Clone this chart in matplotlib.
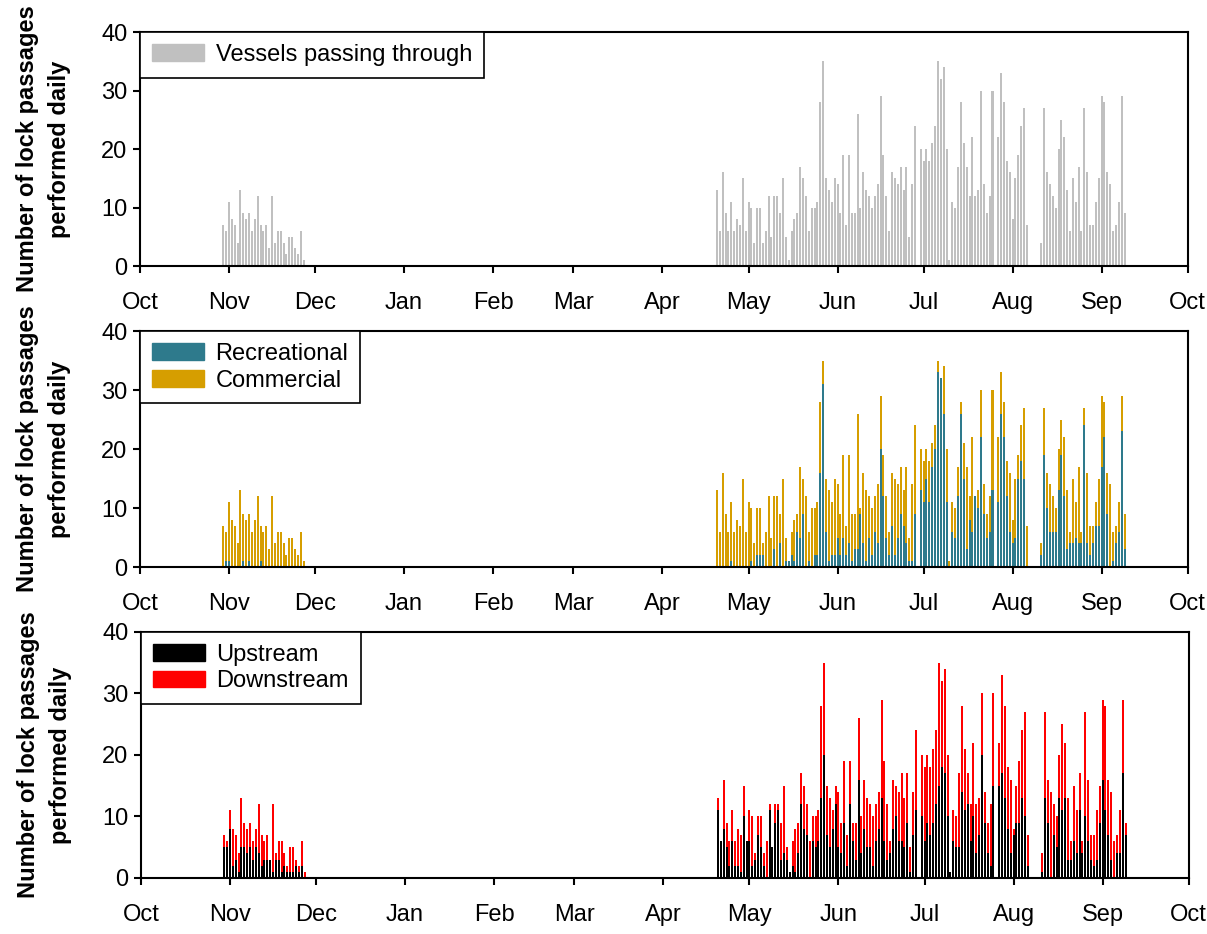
import numpy as np
import pandas as pd
import matplotlib
matplotlib.use('Agg')
import matplotlib.pyplot as plt
import matplotlib.dates as mdates
from matplotlib.patches import Patch

plt.rcParams['font.family'] = ['Liberation Sans', 'DejaVu Sans']

#-----
# DATA
#-----
FALL_START = '2016-10-30'
SPRING_START = '2017-04-20'
X_FROM, X_TO = '2016-10-01', '2017-10-01'

# vessels per day, autumn block
fall_total = [7, 6, 11, 8, 7, 4, 13, 9, 8, 9, 6, 8, 12, 7, 6, 7, 3, 12, 4, 6,
              6, 4, 2, 5, 5, 3, 2, 6, 1]
fall_rec = [0, 1, 1, 0, 0, 0, 0, 1, 0, 1, 0, 0, 0, 1, 0, 0, 0, 0, 0, 0,
            0, 0, 0, 0, 0, 0, 0, 0, 0]
fall_up = [5, 5, 8, 2, 3, 1, 5, 5, 4, 5, 3, 5, 4, 2, 3, 3, 3, 1, 3, 3,
           1, 2, 1, 1, 1, 2, 1, 2, 0]

# vessels per day, spring/summer block
spring_total = [13, 6, 16, 9, 6, 11, 6, 8, 7, 15, 6, 11, 10, 4, 10, 10, 4, 6, 12, 5,
                12, 12, 9, 15, 5, 1, 6, 8, 9, 17, 15, 12, 6, 10, 10, 11, 28, 35, 15, 13,
                11, 15, 14, 9, 19, 7, 19,
                9, 9, 26, 10, 16, 13, 12, 10, 12, 14, 29, 19, 12, 6, 16, 15, 14, 17, 13, 17,
                5, 14, 24, 0, 20, 18, 20, 18, 21, 24, 35, 32, 34, 20, 1, 11, 10, 17, 28, 21,
                17, 12, 22, 12, 13, 30, 14, 9, 12,
                30, 0, 22, 33, 28, 18, 16, 8, 15, 19, 24, 27, 7, 0, 0, 0, 0, 4, 27, 16,
                14, 12, 10, 20, 25, 22, 13, 6, 15, 11, 17, 6, 27, 16, 7, 7, 11, 15, 29, 28,
                16, 14, 6, 7, 11, 29, 9]
spring_rec = [0, 0, 0, 0, 0, 1, 0, 0, 0, 0, 0, 0, 1, 0, 2, 2, 2, 0, 0, 0,
              3, 0, 4, 0, 1, 1, 2, 1, 6, 5, 9, 0, 1, 0, 2, 2, 16, 31, 6, 1,
              2, 2, 5, 2, 5, 2, 4,
              1, 3, 3, 9, 4, 1, 5, 2, 6, 4, 20, 12, 5, 2, 7, 2, 5, 9, 7, 4,
              1, 1, 9, 0, 13, 11, 15, 11, 17, 20, 33, 32, 26, 11, 0, 6, 5, 12, 26, 15,
              3, 8, 6, 12, 10, 22, 9, 5, 6,
              13, 0, 11, 26, 22, 12, 6, 4, 5, 15, 18, 15, 0, 0, 0, 0, 0, 2, 19, 10,
              6, 6, 6, 13, 19, 12, 3, 4, 4, 5, 4, 4, 24, 4, 2, 4, 7, 7, 17, 22,
              9, 0, 1, 4, 6, 23, 3]
spring_up = [11, 6, 8, 5, 2, 6, 2, 2, 1, 10, 6, 6, 2, 3, 7, 5, 2, 0, 11, 5,
             9, 11, 3, 4, 3, 1, 2, 1, 4, 12, 8, 7, 0, 6, 5, 6, 13, 20, 7, 5,
             8, 12, 5, 4, 9, 2, 12,
             6, 3, 16, 4, 8, 5, 5, 2, 6, 8, 13, 6, 3, 4, 8, 10, 6, 6, 5, 9,
             1, 7, 11, 0, 10, 6, 9, 7, 9, 12, 15, 18, 17, 10, 1, 6, 5, 5, 14, 11,
             12, 6, 10, 4, 7, 20, 9, 4, 2,
             15, 0, 15, 17, 13, 8, 4, 7, 9, 9, 13, 10, 2, 0, 0, 0, 0, 1, 13, 9,
             0, 7, 5, 13, 11, 13, 3, 3, 6, 4, 11, 4, 10, 6, 3, 2, 3, 9, 16, 11,
             7, 3, 0, 4, 4, 17, 7]

days = pd.date_range(FALL_START, periods=len(fall_total), freq='D').append(
    pd.date_range(SPRING_START, periods=len(spring_total), freq='D'))
total = np.array(fall_total + spring_total)
rec = np.array(fall_rec + spring_rec)
comm = total - rec
up = np.array(fall_up + spring_up)
down = total - up

YLABEL = 'Number of lock passages\nperformed daily'
GRAY, TEAL, GOLD = '#c0c0c0', '#2e7a8c', '#d69e00'
W = 0.7
FS = 17

#---------
# PLOTTING
#---------
fig = plt.figure(figsize=(12.07, 9.34), dpi=100)
ax1 = fig.add_axes([0.116, 0.7152, 0.868, 0.2505])
ax2 = fig.add_axes([0.116, 0.3929, 0.868, 0.2527])
ax3 = fig.add_axes([0.1168, 0.0600, 0.868, 0.2634])

ax1.bar(days, total, width=W, color=GRAY, linewidth=0)
ax2.bar(days, rec, width=W, color=TEAL, linewidth=0)
ax2.bar(days, comm, width=W, bottom=rec, color=GOLD, linewidth=0)
ax3.bar(days, up, width=W, color='black', linewidth=0)
ax3.bar(days, down, width=W, bottom=up, color='red', linewidth=0)

legends = [
    (ax1, [Patch(color=GRAY)], ['Vessels passing through']),
    (ax2, [Patch(color=TEAL), Patch(color=GOLD)], ['Recreational', 'Commercial']),
    (ax3, [Patch(color='black'), Patch(color='red')], ['Upstream', 'Downstream']),
]
for ax, handles, labels in legends:
    ax.set_xlim(pd.Timestamp(X_FROM), pd.Timestamp(X_TO))
    ax.set_ylim(0, 40)
    ax.set_yticks([0, 10, 20, 30, 40])
    ax.xaxis.set_major_locator(mdates.MonthLocator())
    ax.xaxis.set_major_formatter(mdates.DateFormatter('%b'))
    ax.tick_params(direction='out', length=5, width=1.5, labelsize=FS)
    ax.tick_params(axis='x', pad=14)
    ax.tick_params(axis='y', pad=4)
    for s in ax.spines.values():
        s.set_linewidth(1.5)
    ax.set_ylabel(YLABEL, fontsize=17, fontweight='bold', labelpad=22,
                  linespacing=1.5)
    leg = ax.legend(handles, labels, loc='upper left', bbox_to_anchor=(0, 1),
                    borderaxespad=0, fontsize=17, fancybox=False, framealpha=1,
                    edgecolor='black', handlelength=2.2, handleheight=0.7,
                    handletextpad=0.5, labelspacing=0.2, borderpad=0.5)
    leg.get_frame().set_linewidth(1.2)

fig.savefig('out.png', dpi=100)
